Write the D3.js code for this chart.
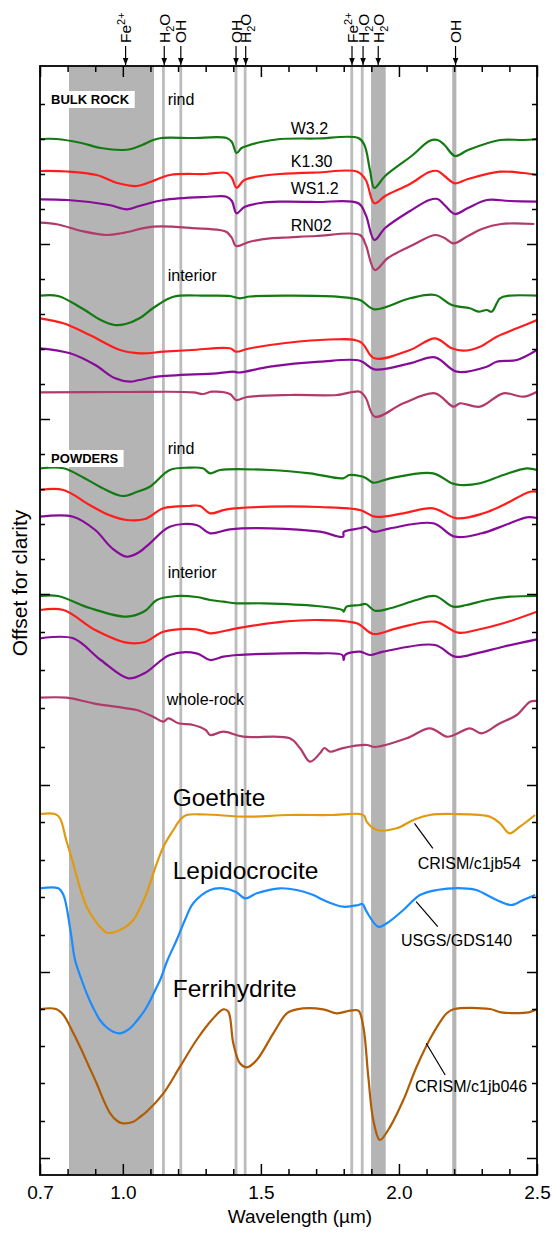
<!DOCTYPE html>
<html><head><meta charset="utf-8">
<script src="https://cdn.jsdelivr.net/npm/d3@7"></script>
<style>body{margin:0;background:#fff}svg text{font-family:"Liberation Sans",Arial,sans-serif}</style>
</head><body>
<svg id="c" width="552" height="1237"></svg>
<script>
// ---- data: [wavelength µm, offset reflectance] ----
const bulkRindW32 = [[0.70,10.36],[0.76,10.36],[0.85,10.32],[0.92,10.27],[1.00,10.25],[1.03,10.26],[1.07,10.30],[1.11,10.35],[1.14,10.37],[1.25,10.37],[1.376,10.37],[1.395,10.33],[1.412,10.22],[1.43,10.27],[1.449,10.29],[1.50,10.33],[1.57,10.36],[1.70,10.365],[1.853,10.37],[1.875,10.30],[1.895,10.05],[1.911,9.87],[1.95,9.99],[2.05,10.20],[2.11,10.34],[2.14,10.35],[2.165,10.30],[2.203,10.19],[2.25,10.25],[2.366,10.35],[2.45,10.35],[2.50,10.36]];
const bulkRindK130 = [[0.70,10.04],[0.80,10.035],[0.905,10.00],[0.98,9.92],[1.05,9.89],[1.10,9.93],[1.171,10.00],[1.30,10.01],[1.376,10.02],[1.395,9.97],[1.412,9.873],[1.44,9.95],[1.50,9.99],[1.569,10.01],[1.70,10.025],[1.85,10.033],[1.88,9.95],[1.911,9.717],[1.95,9.79],[2.04,9.91],[2.11,10.03],[2.14,10.04],[2.165,9.99],[2.203,9.917],[2.25,9.96],[2.366,10.033],[2.45,10.02],[2.50,10.00]];
const bulkRindWS12 = [[0.70,9.757],[0.80,9.75],[0.95,9.70],[1.014,9.657],[1.06,9.69],[1.147,9.75],[1.30,9.78],[1.376,9.783],[1.395,9.74],[1.412,9.617],[1.44,9.68],[1.50,9.72],[1.569,9.733],[1.70,9.73],[1.853,9.717],[1.88,9.60],[1.911,9.35],[1.95,9.47],[2.04,9.64],[2.11,9.75],[2.14,9.76],[2.165,9.70],[2.203,9.61],[2.25,9.67],[2.318,9.75],[2.40,9.74],[2.50,9.733]];
const bulkRindRN02 = [[0.70,9.523],[0.765,9.505],[0.85,9.44],[0.94,9.40],[1.00,9.42],[1.11,9.483],[1.267,9.467],[1.35,9.45],[1.376,9.43],[1.395,9.37],[1.41,9.29],[1.46,9.333],[1.533,9.367],[1.605,9.377],[1.70,9.39],[1.859,9.40],[1.88,9.30],[1.913,9.05],[1.96,9.17],[2.05,9.30],[2.131,9.40],[2.165,9.37],[2.197,9.317],[2.25,9.39],[2.30,9.46],[2.37,9.51],[2.49,9.51]];
const bulkIntW32 = [[0.70,8.793],[0.765,8.79],[0.85,8.67],[0.92,8.55],[0.97,8.50],[1.01,8.51],[1.062,8.57],[1.11,8.67],[1.183,8.783],[1.30,8.793],[1.388,8.79],[1.424,8.767],[1.46,8.785],[1.605,8.793],[1.775,8.783],[1.859,8.75],[1.911,8.657],[2.04,8.767],[2.131,8.80],[2.191,8.70],[2.257,8.667],[2.288,8.633],[2.318,8.65],[2.336,8.633],[2.366,8.767],[2.40,8.793],[2.50,8.793]];
const bulkIntK130 = [[0.70,8.567],[0.785,8.517],[0.88,8.40],[0.99,8.25],[1.062,8.217],[1.147,8.233],[1.25,8.25],[1.388,8.267],[1.41,8.233],[1.45,8.26],[1.533,8.30],[1.714,8.35],[1.859,8.333],[1.911,8.167],[2.04,8.25],[2.131,8.367],[2.191,8.267],[2.233,8.243],[2.294,8.283],[2.354,8.383],[2.427,8.467],[2.50,8.55]];
const bulkIntWS12 = [[0.70,8.267],[0.809,8.217],[0.90,8.10],[0.97,7.97],[1.026,7.933],[1.06,7.95],[1.123,7.983],[1.34,8.017],[1.40,8.033],[1.42,8.025],[1.533,8.083],[1.714,8.133],[1.859,8.143],[1.911,8.057],[2.04,8.117],[2.131,8.177],[2.209,8.033],[2.318,8.083],[2.354,8.133],[2.427,8.15],[2.50,8.25]];
const bulkIntRN02 = [[0.70,7.827],[1.00,7.83],[1.255,7.827],[1.29,7.81],[1.322,7.833],[1.388,7.81],[1.41,7.75],[1.45,7.78],[1.605,7.80],[1.775,7.80],[1.859,7.833],[1.88,7.77],[1.913,7.583],[2.016,7.717],[2.131,7.817],[2.197,7.683],[2.221,7.717],[2.294,7.683],[2.378,7.817],[2.45,7.783],[2.50,7.833]];
const powRindW32 = [[0.70,7.067],[0.785,7.067],[0.86,6.97],[0.94,6.85],[1.00,6.79],[1.05,6.83],[1.098,6.883],[1.17,7.05],[1.24,7.073],[1.29,7.067],[1.316,7.017],[1.352,7.05],[1.533,7.05],[1.678,7.017],[1.798,6.967],[1.82,7.00],[1.859,6.99],[1.88,6.97],[1.907,6.923],[1.968,6.967],[2.124,7.017],[2.191,6.917],[2.221,6.90],[2.294,6.917],[2.378,7.00],[2.463,7.067],[2.50,7.05]];
const powRindK130 = [[0.70,6.85],[0.785,6.85],[0.88,6.70],[0.95,6.60],[1.014,6.55],[1.08,6.56],[1.147,6.667],[1.24,6.69],[1.28,6.69],[1.316,6.617],[1.376,6.657],[1.533,6.683],[1.714,6.68],[1.859,6.65],[1.913,6.583],[2.016,6.617],[2.124,6.667],[2.209,6.567],[2.306,6.617],[2.378,6.70],[2.475,6.833],[2.50,6.833]];
const powRindWS12 = [[0.70,6.583],[0.82,6.583],[0.90,6.45],[0.96,6.27],[1.014,6.183],[1.06,6.23],[1.098,6.317],[1.17,6.483],[1.267,6.50],[1.316,6.417],[1.388,6.457],[1.533,6.467],[1.714,6.433],[1.798,6.383],[1.80,6.43],[1.859,6.467],[1.88,6.48],[1.907,6.433],[1.968,6.467],[2.124,6.517],[2.203,6.383],[2.30,6.417],[2.385,6.50],[2.463,6.577],[2.50,6.57]];
const powIntW32 = [[0.70,5.79],[0.765,5.79],[0.88,5.67],[1.014,5.583],[1.08,5.64],[1.123,5.75],[1.195,5.79],[1.267,5.78],[1.316,5.75],[1.364,5.733],[1.412,5.717],[1.509,5.717],[1.702,5.69],[1.795,5.65],[1.80,5.633],[1.81,5.683],[1.859,5.70],[1.88,5.71],[1.913,5.643],[1.968,5.667],[2.064,5.75],[2.131,5.79],[2.197,5.683],[2.245,5.70],[2.318,5.75],[2.402,5.783],[2.50,5.79]];
const powIntK130 = [[0.70,5.65],[0.785,5.65],[0.90,5.45],[1.014,5.323],[1.08,5.33],[1.147,5.433],[1.267,5.457],[1.316,5.417],[1.412,5.467],[1.581,5.533],[1.702,5.55],[1.847,5.517],[1.907,5.41],[1.992,5.467],[2.131,5.533],[2.215,5.423],[2.281,5.45],[2.378,5.517],[2.50,5.633]];
const powIntWS12 = [[0.70,5.367],[0.82,5.367],[0.92,5.15],[1.02,4.967],[1.08,5.02],[1.17,5.20],[1.267,5.217],[1.316,5.15],[1.364,5.183],[1.412,5.20],[1.702,5.217],[1.795,5.20],[1.80,5.15],[1.805,5.20],[1.859,5.233],[1.895,5.20],[1.943,5.233],[2.131,5.30],[2.203,5.183],[2.281,5.217],[2.378,5.283],[2.50,5.357]];
const powWholeRN02 = [[0.70,4.773],[0.797,4.773],[0.893,4.717],[1.014,4.667],[1.05,4.65],[1.11,4.583],[1.147,4.533],[1.165,4.567],[1.201,4.517],[1.255,4.50],[1.30,4.45],[1.316,4.40],[1.364,4.433],[1.436,4.383],[1.605,4.367],[1.642,4.267],[1.678,4.133],[1.714,4.217],[1.73,4.27],[1.75,4.233],[1.793,4.267],[1.883,4.30],[1.913,4.28],[2.028,4.367],[2.112,4.467],[2.173,4.383],[2.20,4.40],[2.257,4.467],[2.30,4.417],[2.366,4.517],[2.427,4.60],[2.475,4.733],[2.50,4.74]];
const goethite = [[0.70,3.61],[0.754,3.61],[0.772,3.57],[0.795,3.35],[0.82,3.117],[0.845,2.87],[0.869,2.683],[0.893,2.57],[0.917,2.483],[0.942,2.423],[0.99,2.45],[1.038,2.55],[1.062,2.67],[1.086,2.817],[1.123,3.117],[1.15,3.30],[1.183,3.45],[1.21,3.56],[1.231,3.60],[1.30,3.605],[1.449,3.583],[1.60,3.60],[1.75,3.60],[1.859,3.61],[1.875,3.59],[1.883,3.533],[1.92,3.45],[1.992,3.467],[2.052,3.55],[2.112,3.60],[2.197,3.61],[2.33,3.583],[2.366,3.517],[2.40,3.417],[2.438,3.483],[2.493,3.60]];
const lepidocrocite = [[0.70,2.867],[0.766,2.867],[0.785,2.80],[0.81,2.45],[0.827,2.15],[0.851,1.95],[0.869,1.817],[0.893,1.67],[0.917,1.55],[0.94,1.48],[0.965,1.433],[0.99,1.417],[1.026,1.467],[1.05,1.54],[1.08,1.65],[1.10,1.75],[1.123,1.883],[1.135,1.95],[1.162,2.15],[1.195,2.35],[1.225,2.55],[1.255,2.717],[1.316,2.85],[1.364,2.867],[1.41,2.83],[1.443,2.767],[1.485,2.817],[1.569,2.867],[1.63,2.85],[1.69,2.80],[1.726,2.75],[1.798,2.683],[1.853,2.70],[1.868,2.71],[1.883,2.633],[1.925,2.483],[1.956,2.517],[2.016,2.65],[2.076,2.80],[2.137,2.85],[2.233,2.867],[2.28,2.85],[2.354,2.75],[2.408,2.70],[2.45,2.75],[2.493,2.80]];
const ferrihydrite = [[0.70,1.66],[0.758,1.66],[0.785,1.60],[0.815,1.45],[0.845,1.283],[0.875,1.10],[0.905,0.917],[0.93,0.75],[0.954,0.617],[0.98,0.54],[1.00,0.517],[1.038,0.533],[1.062,0.58],[1.086,0.633],[1.147,0.817],[1.207,1.083],[1.267,1.35],[1.322,1.55],[1.364,1.657],[1.382,1.633],[1.40,1.317],[1.424,1.117],[1.449,1.077],[1.485,1.15],[1.545,1.417],[1.594,1.617],[1.63,1.657],[1.726,1.657],[1.775,1.617],[1.823,1.643],[1.853,1.643],[1.871,1.483],[1.889,0.983],[1.907,0.55],[1.931,0.35],[1.961,0.45],[2.016,0.75],[2.064,1.083],[2.124,1.417],[2.173,1.617],[2.20,1.66],[2.33,1.66],[2.37,1.627],[2.47,1.627],[2.50,1.657]];

const xTickLabels = [0.7, 1.0, 1.5, 2.0, 2.5];
const xMinorTicks = [0.8,0.9,1.1,1.2,1.3,1.4,1.6,1.7,1.8,1.9,2.1,2.2,2.3,2.4];
const yMajorTicks = [9.31, 7.56, 5.81, 3.90, 2.03, 0.17];
const yMinorTicks = [10.71,10.36,10.01,9.66, 8.96,8.61,8.26,7.91, 7.21,6.86,6.51,6.16, 5.43,5.05,4.67,4.28, 3.53,3.15,2.78,2.40, 1.66,1.29,0.92,0.54];
const wideBands = [[0.805,1.113],[1.899,1.952],[2.193,2.208]];
const thinLines = [1.147,1.21,1.41,1.443,1.829,1.867];
const features = [["Fe","2+",1.01],["H","2O",1.15],["OH","",1.21],["OH","",1.41],["H","2O",1.445],["Fe","2+",1.83],["H","2O",1.87],["H","2O",1.925],["OH","",2.205]];

const series = [
  [bulkRindW32,"g"],[bulkRindK130,"r"],[bulkRindWS12,"p"],[bulkRindRN02,"m"],
  [bulkIntW32,"g"],[bulkIntK130,"r"],[bulkIntWS12,"p"],[bulkIntRN02,"m"],
  [powRindW32,"g"],[powRindK130,"r"],[powRindWS12,"p"],
  [powIntW32,"g"],[powIntK130,"r"],[powIntWS12,"p"],[powWholeRN02,"m"],
  [goethite,"o"],[lepidocrocite,"b"],[ferrihydrite,"br"]
];
const colors = {g:"#137a13", r:"#ff1c1c", p:"#860c98", m:"#b23a6b", o:"#e09a10", b:"#1a8cff", br:"#b05c05"};

// ---- layout ----
const L=40, R=537, T=66, B=1175;
const svg = d3.select("#c");
const x = d3.scaleLinear().domain([0.7,2.5]).range([L,R]);
const y = d3.scaleLinear().domain([0,11.09]).range([B,T]);

svg.append("defs").append("clipPath").attr("id","clip")
  .append("rect").attr("x",L).attr("y",T).attr("width",R-L).attr("height",B-T);
svg.select("defs").append("marker").attr("id","arr").attr("viewBox","0 0 10 10")
  .attr("refX",10).attr("refY",5).attr("markerWidth",6).attr("markerHeight",6).attr("orient","auto")
  .append("path").attr("d","M0,1L10,5L0,9Z").attr("fill","#000");

const plot = svg.append("g").attr("clip-path","url(#clip)");
plot.selectAll("rect.band").data(wideBands).join("rect")
  .attr("x",d=>x(d[0])).attr("width",d=>x(d[1])-x(d[0]))
  .attr("y",T).attr("height",B-T).attr("fill","#b4b4b4");
plot.selectAll("rect.thin").data(thinLines).join("rect")
  .attr("x",d=>x(d)-1.4).attr("width",2.8)
  .attr("y",T).attr("height",B-T).attr("fill","#bcbcbc");

const line = d3.line().x(d=>x(d[0])).y(d=>y(d[1])).curve(d3.curveCatmullRom.alpha(0.5));
plot.selectAll("path.s").data(series).join("path")
  .attr("fill","none").attr("stroke",d=>colors[d[1]]).attr("stroke-width",2.2)
  .attr("stroke-linejoin","round").attr("d",d=>line(d[0]));

// axes
function ax(gen, tr){ return svg.append("g").attr("transform",tr).call(gen); }
const bx1 = ax(d3.axisBottom(x).tickValues(xTickLabels).tickSize(-11).tickPadding(11).tickFormat(d3.format(".1f")), `translate(0,${B})`);
const bx2 = ax(d3.axisBottom(x).tickValues(xMinorTicks).tickSize(-6).tickFormat(""), `translate(0,${B})`);
const tx1 = ax(d3.axisTop(x).tickValues(xTickLabels).tickSize(-11).tickFormat(""), `translate(0,${T})`);
const tx2 = ax(d3.axisTop(x).tickValues(xMinorTicks).tickSize(-6).tickFormat(""), `translate(0,${T})`);
const ly1 = ax(d3.axisLeft(y).tickValues(yMajorTicks).tickSize(-10).tickFormat(""), `translate(${L},0)`);
const ly2 = ax(d3.axisLeft(y).tickValues(yMinorTicks).tickSize(-5).tickFormat(""), `translate(${L},0)`);
const ry1 = ax(d3.axisRight(y).tickValues(yMajorTicks).tickSize(-10).tickFormat(""), `translate(${R},0)`);
const ry2 = ax(d3.axisRight(y).tickValues(yMinorTicks).tickSize(-5).tickFormat(""), `translate(${R},0)`);
svg.selectAll(".domain").remove();
svg.selectAll(".tick line").attr("stroke","#000").attr("stroke-width",1.5);
bx1.selectAll("text").attr("font-size",19).attr("fill","#000").attr("font-family","Liberation Sans, Arial");
svg.append("rect").attr("x",L).attr("y",T).attr("width",R-L).attr("height",B-T)
  .attr("fill","none").attr("stroke","#000").attr("stroke-width",1.8);

// axis titles
svg.append("text").attr("x",300).attr("y",1223).attr("text-anchor","middle").attr("font-size",19).text("Wavelength (µm)");
svg.append("text").attr("transform","translate(27,583) rotate(-90)").attr("text-anchor","middle").attr("font-size",21).text("Offset for clarity");

// feature arrows
const fg = svg.selectAll("g.feat").data(features).join("g").attr("transform",d=>`translate(${x(d[2])},0)`);
fg.append("line").attr("x1",0).attr("x2",0).attr("y1",46).attr("y2",65).attr("stroke","#000").attr("stroke-width",1.2).attr("marker-end","url(#arr)");
fg.each(function(d){
  const t = d3.select(this).append("text").attr("transform","translate(5.5,43) rotate(-90)").attr("font-size",15.5);
  if (d[1]==="2+") { t.append("tspan").text(d[0]); t.append("tspan").attr("font-size",11).attr("dy",-6).text("2+"); }
  else if (d[1]==="2O") { t.append("tspan").text("H"); t.append("tspan").attr("font-size",11).attr("dy",4).text("2"); t.append("tspan").attr("dy",-4).text("O"); }
  else t.text(d[0]);
});

// text labels (data coordinates)
function label(txt,w,v,size){
  return svg.append("text").attr("x",x(w)).attr("y",y(v)).attr("font-size",size).text(txt);
}
function boxed(txt,w,v){
  const g = svg.append("g");
  const t = g.append("text").attr("x",x(w)).attr("y",y(v)).attr("font-size",13).attr("font-weight","bold").text(txt);
  const bb = t.node().getBBox();
  g.insert("rect","text").attr("x",bb.x-3).attr("y",bb.y-1).attr("width",bb.width+8).attr("height",bb.height+2).attr("fill","#fff");
}
boxed("BULK ROCK",0.7402,10.71);
boxed("POWDERS",0.7402,7.12);
label("rind",1.1625,10.70,16);
label("W3.2",1.608,10.41,16);
label("K1.30",1.608,10.083,16);
label("WS1.2",1.608,9.807,16);
label("RN02",1.608,9.443,16);
label("interior",1.1625,8.943,16);
label("rind",1.1625,7.21,16);
label("interior",1.1625,5.97,16);
label("whole-rock",1.159,4.70,16);
label("Goethite",1.1806,3.69,24.5);
label("Lepidocrocite",1.1806,2.957,24.5);
label("Ferrihydrite",1.1806,1.783,24.5);
label("CRISM/c1jb54",2.068,3.06,16);
label("USGS/GDS140",2.0075,2.29,16);
label("CRISM/c1jb046",2.0583,0.83,16);
const leaders = [[2.0563,3.517,2.1227,3.267],[2.0624,2.733,2.1406,2.483],[2.0987,1.317,2.1675,1.00]];
svg.selectAll("line.lead").data(leaders).join("line")
  .attr("x1",d=>x(d[0])).attr("y1",d=>y(d[1])).attr("x2",d=>x(d[2])).attr("y2",d=>y(d[3]))
  .attr("stroke","#000").attr("stroke-width",1.2);
</script>
</body></html>
